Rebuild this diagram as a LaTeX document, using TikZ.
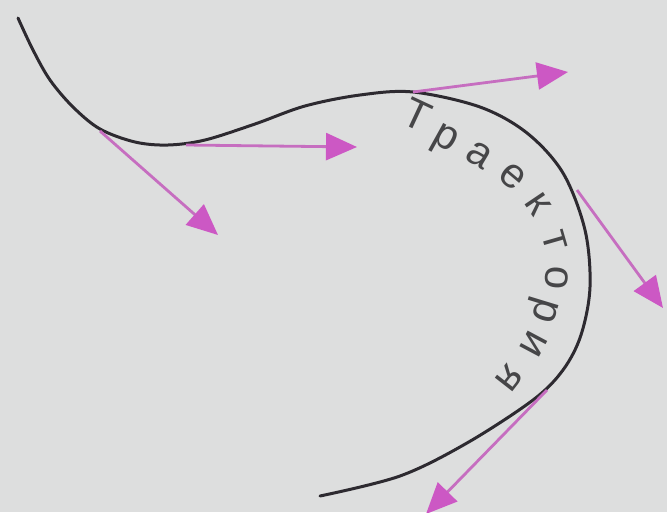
\documentclass[tikz,border=0pt]{standalone}
\usepackage{fontspec}
\setmainfont{Liberation Sans}
\usetikzlibrary{arrows.meta}
\definecolor{bgc}{RGB}{221,222,222}
\definecolor{curvec}{RGB}{45,42,48}
\definecolor{arrowc}{RGB}{198,110,192}
\definecolor{headc}{RGB}{204,88,196}
\definecolor{textc}{RGB}{70,70,72}
\tikzset{
  traj/.style={draw=curvec, line width=3pt, line cap=round},
  vel/.style={draw=arrowc, line width=2.8pt,
    -{Triangle[length=31pt,width=27pt,fill=headc,color=headc]}},
  letter/.style={font=\fontsize{42}{42}\selectfont, text=textc, inner sep=0pt,
    text height=1ex, text depth=0pt, anchor=center}
}
\begin{document}
\begin{tikzpicture}[x=1pt,y=-1pt]
\fill[bgc] (0,0) rectangle (667,512);
\useasboundingbox (0,0) rectangle (667,512);
% trajectory
\draw[traj] plot[smooth, tension=0.55] coordinates {
  (18,18) (33,50) (50,80) (73,107) (100,129) (135,142) (168,145) (205,140)
  (255,124) (305,106) (360,95) (413,92) (480,107) (527,133) (563,173)
  (585,230) (590,287) (581,335) (563,370) (533,400) (467,443) (400,476) (320,496)};
% velocity vectors
\coordinate (s1) at (100,131); \coordinate (e1) at (218,235);
\coordinate (s2) at (186,145); \coordinate (e2) at (357,147);
\coordinate (s3) at (413,92);  \coordinate (e3) at (568,72);
\coordinate (s4) at (577,190); \coordinate (e4) at (663,308);
\coordinate (s5) at (547,390); \coordinate (e5) at (426,514);
\draw[vel] (s1) -- (e1);
\draw[vel] (s2) -- (e2);
\draw[vel] (s3) -- (e3);
\draw[vel] (s4) -- (e4);
\draw[vel] (s5) -- (e5);
% label along the curve
\node[letter, rotate=-25]  (l1)  at (412,126) {Т};
\node[letter, rotate=-29]  (l2)  at (442,145) {р};
\node[letter, rotate=-31]  (l3)  at (475,162) {а};
\node[letter, rotate=-40]  (l4)  at (507,183) {е};
\node[letter, rotate=-56]  (l5)  at (531,209) {к};
\node[letter, rotate=-74]  (l6)  at (547,243) {т};
\node[letter, rotate=-94]  (l7)  at (548,277) {о};
\node[letter, rotate=-107] (l8)  at (538,308) {р};
\node[letter, rotate=-118] (l9)  at (526,340) {и};
\node[letter, rotate=-128] (l10) at (503,373) {я};
\end{tikzpicture}
\end{document}
